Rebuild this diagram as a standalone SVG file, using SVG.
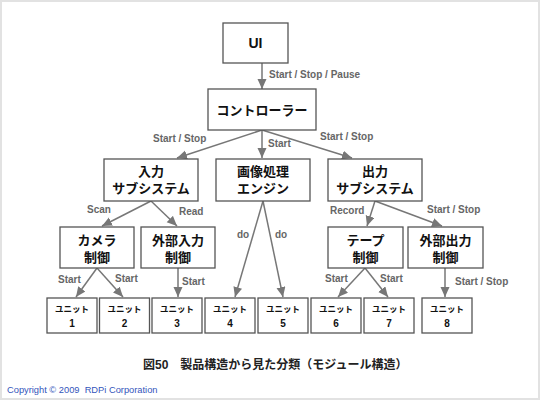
<svg xmlns="http://www.w3.org/2000/svg" width="540" height="400" viewBox="0 0 540 400">
<style>
.box{fill:#fff;stroke:#555;stroke-width:1.3}
.t{font-family:"Liberation Sans","Noto Sans CJK JP",sans-serif;font-weight:bold;fill:#111;text-anchor:middle}
.big{font-size:14px}
.mid{font-size:13px}
.u1{font-size:8.5px}
.u2{font-size:10px}
.lbl{font-family:"Liberation Sans",sans-serif;font-weight:bold;font-size:10px;fill:#666}
.c{fill:none;stroke:#777;stroke-width:1.5}
</style>
<defs>
<marker id="ah" markerUnits="userSpaceOnUse" markerWidth="11" markerHeight="10" refX="10" refY="4.5" orient="auto">
<path d="M0,0 L10,4.5 L0,9 z" fill="#777"/>
</marker>
</defs>
<rect x="1" y="1" width="538" height="398" fill="#fff" stroke="#e2e2e2" stroke-width="2"/>

<g id="connectors">
<line class="c" x1="262" y1="63" x2="262" y2="89" marker-end="url(#ah)"/>
<line class="c" x1="262" y1="130" x2="177" y2="158" marker-end="url(#ah)"/>
<line class="c" x1="262" y1="130" x2="262" y2="158" marker-end="url(#ah)"/>
<line class="c" x1="262" y1="130" x2="352" y2="158" marker-end="url(#ah)"/>
<line class="c" x1="151" y1="201" x2="102" y2="226" marker-end="url(#ah)"/>
<line class="c" x1="151" y1="201" x2="177" y2="226" marker-end="url(#ah)"/>
<line class="c" x1="263" y1="201" x2="235" y2="297" marker-end="url(#ah)"/>
<line class="c" x1="263" y1="201" x2="283" y2="297" marker-end="url(#ah)"/>
<line class="c" x1="375" y1="201" x2="367" y2="226" marker-end="url(#ah)"/>
<line class="c" x1="375" y1="201" x2="442" y2="226" marker-end="url(#ah)"/>
<line class="c" x1="97" y1="268" x2="76" y2="297" marker-end="url(#ah)"/>
<line class="c" x1="97" y1="268" x2="123" y2="297" marker-end="url(#ah)"/>
<line class="c" x1="178" y1="268" x2="178" y2="297" marker-end="url(#ah)"/>
<line class="c" x1="365" y1="268" x2="338" y2="297" marker-end="url(#ah)"/>
<line class="c" x1="365" y1="268" x2="388" y2="297" marker-end="url(#ah)"/>
<line class="c" x1="445" y1="268" x2="445" y2="297" marker-end="url(#ah)"/>
<text class="lbl" x="269" y="78">Start / Stop / Pause</text>
<text class="lbl" x="153" y="142">Start / Stop</text>
<text class="lbl" x="268" y="147">Start</text>
<text class="lbl" x="320" y="140">Start / Stop</text>
<text class="lbl" x="87" y="213">Scan</text>
<text class="lbl" x="179" y="215">Read</text>
<text class="lbl" x="330" y="214">Record</text>
<text class="lbl" x="427" y="213">Start / Stop</text>
<text class="lbl" x="237" y="238">do</text>
<text class="lbl" x="275" y="238">do</text>
<text class="lbl" x="58" y="283">Start</text>
<text class="lbl" x="115" y="282">Start</text>
<text class="lbl" x="182" y="285">Start</text>
<text class="lbl" x="325" y="282">Start</text>
<text class="lbl" x="380" y="282">Start</text>
<text class="lbl" x="455" y="285">Start / Stop</text>
</g>

<g id="ui"><rect class="box" x="223" y="23" width="65" height="40"/><text class="t big" x="255.5" y="48">UI</text></g>
<g id="controller"><rect class="box" x="208" y="89" width="108" height="41"/><text class="t mid" x="262" y="115">コントローラー</text></g>

<g id="input"><rect class="box" x="104" y="159" width="94" height="42"/><text class="t mid" x="151" y="176">入力</text><text class="t mid" x="151" y="193">サブシステム</text></g>
<g id="engine"><rect class="box" x="216" y="159" width="94" height="42"/><text class="t mid" x="263" y="176">画像処理</text><text class="t mid" x="263" y="193">エンジン</text></g>
<g id="output"><rect class="box" x="328" y="159" width="94" height="42"/><text class="t mid" x="375" y="176">出力</text><text class="t mid" x="375" y="193">サブシステム</text></g>

<g id="camera"><rect class="box" x="60" y="227" width="74" height="41"/><text class="t mid" x="97" y="245">カメラ</text><text class="t mid" x="97" y="262">制御</text></g>
<g id="extin"><rect class="box" x="141" y="227" width="74" height="41"/><text class="t mid" x="178" y="245">外部入力</text><text class="t mid" x="178" y="262">制御</text></g>
<g id="tape"><rect class="box" x="328" y="227" width="75" height="41"/><text class="t mid" x="365.5" y="245">テープ</text><text class="t mid" x="365.5" y="262">制御</text></g>
<g id="extout"><rect class="box" x="408" y="227" width="75" height="41"/><text class="t mid" x="445.5" y="245">外部出力</text><text class="t mid" x="445.5" y="262">制御</text></g>

<g id="unit1"><rect class="box" x="47" y="298" width="50" height="35"/><text class="t u1" x="72" y="312">ユニット</text><text class="t u2" x="72" y="327">1</text></g>
<g id="unit2"><rect class="box" x="99.5" y="298" width="50" height="35"/><text class="t u1" x="124.5" y="312">ユニット</text><text class="t u2" x="124.5" y="327">2</text></g>
<g id="unit3"><rect class="box" x="152" y="298" width="50" height="35"/><text class="t u1" x="177" y="312">ユニット</text><text class="t u2" x="177" y="327">3</text></g>
<g id="unit4"><rect class="box" x="205" y="298" width="50" height="35"/><text class="t u1" x="230" y="312">ユニット</text><text class="t u2" x="230" y="327">4</text></g>
<g id="unit5"><rect class="box" x="258" y="298" width="50" height="35"/><text class="t u1" x="283" y="312">ユニット</text><text class="t u2" x="283" y="327">5</text></g>
<g id="unit6"><rect class="box" x="311" y="298" width="50" height="35"/><text class="t u1" x="336" y="312">ユニット</text><text class="t u2" x="336" y="327">6</text></g>
<g id="unit7"><rect class="box" x="364" y="298" width="50" height="35"/><text class="t u1" x="389" y="312">ユニット</text><text class="t u2" x="389" y="327">7</text></g>
<g id="unit8"><rect class="box" x="422" y="298" width="50" height="35"/><text class="t u1" x="447" y="312">ユニット</text><text class="t u2" x="447" y="327">8</text></g>

<text x="143" y="369" font-family="Liberation Sans,Noto Sans CJK JP,sans-serif" font-weight="bold" font-size="12" fill="#222">図50　製品構造から見た分類（モジュール構造）</text>
<text x="7" y="393" font-family="Liberation Sans,sans-serif" font-size="9.3" fill="#3355bb">Copyright © 2009&#160; RDPi Corporation</text>
</svg>
